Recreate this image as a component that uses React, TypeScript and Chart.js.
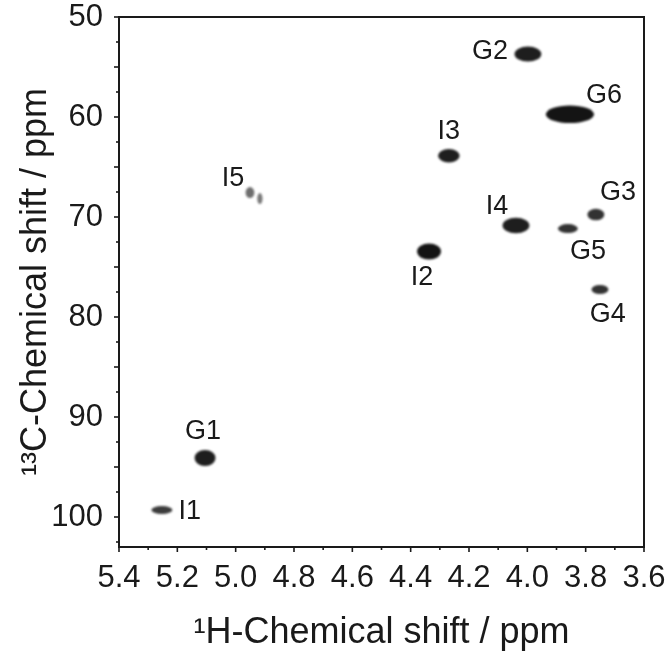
import React, { useEffect, useRef } from "react";
import { Chart, registerables } from "chart.js";

Chart.register(...registerables);

// 1H (x) and 13C (y) chemical shifts of the cross peaks, ppm
const peakH = [5.105, 3.998, 3.765, 3.751, 3.861, 3.854, 5.253, 4.337, 4.269, 4.039, 4.951, 4.917];
const peakC = [94.1, 53.7, 69.76, 77.25, 71.16, 59.73, 99.3, 73.45, 63.87, 70.86, 67.56, 68.16];
// peak extents (ppm) and relative intensity
const peakWidthH = [0.072, 0.092, 0.058, 0.058, 0.068, 0.165, 0.072, 0.082, 0.074, 0.092, 0.03, 0.018];
const peakWidthC = [1.6, 1.5, 1.15, 0.9, 0.9, 1.75, 0.8, 1.6, 1.35, 1.55, 1.1, 1.1];
const peakIntensity = [0.95, 0.95, 0.85, 0.85, 0.85, 1.0, 0.8, 1.0, 0.95, 0.95, 0.55, 0.5];

// peak assignment labels and their anchor positions (ppm)
const labelText = ["G1", "G2", "G3", "G4", "G5", "G6", "I1", "I2", "I3", "I4", "I5"];
const labelH = [5.112, 4.128, 3.689, 3.724, 3.792, 3.737, 5.157, 4.361, 4.269, 4.104, 5.009];
const labelC = [91.32, 53.4, 67.47, 79.64, 73.35, 57.8, 99.4, 75.95, 61.4, 68.86, 66.07];

// axis ticks
const xTickValues = [5.4, 5.2, 5.0, 4.8, 4.6, 4.4, 4.2, 4.0, 3.8, 3.6];
const xMinorTicks = [5.3, 5.1, 4.9, 4.7, 4.5, 4.3, 4.1, 3.9, 3.7];
const yTickValues = [50, 60, 70, 80, 90, 100];
const yMidTicks = [55, 65, 75, 85, 95];
const yMinorTicks = [52.5, 57.5, 62.5, 67.5, 72.5, 77.5, 82.5, 87.5, 92.5, 97.5, 102.5];

const xTitle = "\u00B9H-Chemical shift / ppm";
const yTitle = "\u00B9\u00B3C-Chemical shift / ppm";

const FONT = "'Liberation Sans', Arial, Helvetica, sans-serif";
const INK = "#1a1a1a";

const framePlugin = {
  id: "frameAndTicks",
  afterDraw(chart: any) {
    const { ctx, chartArea, scales } = chart;
    const xs = scales.x;
    const ys = scales.y;
    ctx.save();
    ctx.strokeStyle = INK;
    ctx.lineWidth = 2;
    ctx.strokeRect(chartArea.left, chartArea.top, chartArea.right - chartArea.left, chartArea.bottom - chartArea.top);
    ctx.lineWidth = 1.6;
    const tickX = (v: number, len: number) => {
      const p = xs.getPixelForValue(v);
      ctx.beginPath();
      ctx.moveTo(p, chartArea.bottom);
      ctx.lineTo(p, chartArea.bottom + len);
      ctx.stroke();
    };
    const tickY = (v: number, len: number) => {
      const p = ys.getPixelForValue(v);
      ctx.beginPath();
      ctx.moveTo(chartArea.left, p);
      ctx.lineTo(chartArea.left - len, p);
      ctx.stroke();
    };
    xTickValues.forEach((v) => tickX(v, 5));
    xMinorTicks.forEach((v) => tickX(v, 3));
    yTickValues.forEach((v) => tickY(v, 5));
    yMidTicks.forEach((v) => tickY(v, 5));
    yMinorTicks.forEach((v) => tickY(v, 3));
    ctx.restore();
  },
};

const peakPlugin = {
  id: "peaks",
  afterDatasetsDraw(chart: any) {
    const { ctx, scales, chartArea } = chart;
    const xs = scales.x;
    const ys = scales.y;
    const meta = chart.getDatasetMeta(0);
    ctx.save();
    ctx.beginPath();
    ctx.rect(chartArea.left, chartArea.top, chartArea.right - chartArea.left, chartArea.bottom - chartArea.top);
    ctx.clip();
    ctx.filter = "blur(1.2px)";
    meta.data.forEach((el: any, i: number) => {
      const rx = Math.abs(xs.getPixelForValue(peakH[i] - peakWidthH[i] / 2) - xs.getPixelForValue(peakH[i] + peakWidthH[i] / 2)) / 2;
      const ry = Math.abs(ys.getPixelForValue(peakC[i] - peakWidthC[i] / 2) - ys.getPixelForValue(peakC[i] + peakWidthC[i] / 2)) / 2;
      const g = Math.round(20 + (1 - peakIntensity[i]) * 200);
      ctx.fillStyle = `rgb(${g},${g},${g})`;
      ctx.beginPath();
      ctx.ellipse(el.x, el.y, rx, ry, 0, 0, Math.PI * 2);
      ctx.fill();
    });
    ctx.filter = "none";
    ctx.fillStyle = INK;
    ctx.font = `27px ${FONT}`;
    ctx.textAlign = "center";
    ctx.textBaseline = "middle";
    labelText.forEach((t, i) => {
      ctx.fillText(t, xs.getPixelForValue(labelH[i]), ys.getPixelForValue(labelC[i]) + 1);
    });
    ctx.restore();
  },
};

const zeroPad = (scale: any) => {
  scale.paddingTop = 0;
  scale.paddingBottom = 0;
  scale.paddingLeft = 0;
  scale.paddingRight = 0;
};

export default function App() {
  const ref = useRef<HTMLCanvasElement | null>(null);
  useEffect(() => {
    if (!ref.current) return;
    const chart = new Chart(ref.current, {
      type: "scatter",
      data: {
        datasets: [
          {
            data: peakH.map((h, i) => ({ x: h, y: peakC[i] })),
            pointRadius: 0,
            pointHoverRadius: 0,
            showLine: false,
          },
        ],
      },
      options: {
        animation: false,
        responsive: false,
        events: [],
        layout: { padding: { top: 17, right: 27, left: 0, bottom: 0 } },
        plugins: { legend: { display: false }, tooltip: { enabled: false } },
        scales: {
          x: {
            type: "linear",
            position: "bottom",
            min: 3.6,
            max: 5.4,
            reverse: true,
            grid: { display: false, drawTicks: false },
            border: { display: false },
            afterBuildTicks: (scale: any) => {
              scale.ticks = xTickValues.map((v) => ({ value: v }));
            },
            afterFit: (scale: any) => {
              scale.height = 109;
              zeroPad(scale);
            },
            ticks: {
              color: INK,
              font: { family: FONT, size: 31 },
              padding: 13,
              maxRotation: 0,
              autoSkip: false,
              callback: (v: any) => Number(v).toFixed(1),
            },
            title: {
              display: true,
              text: xTitle,
              color: INK,
              font: { family: FONT, size: 36 },
              padding: { top: 0, bottom: 1 },
            },
          },
          y: {
            type: "linear",
            min: 50,
            max: 103,
            reverse: true,
            grid: { display: false, drawTicks: false },
            border: { display: false },
            afterBuildTicks: (scale: any) => {
              scale.ticks = yTickValues.map((v) => ({ value: v }));
            },
            afterFit: (scale: any) => {
              scale.width = 119;
              zeroPad(scale);
            },
            ticks: {
              color: INK,
              font: { family: FONT, size: 31 },
              padding: 16,
              autoSkip: false,
              callback: (v: any) => String(Math.round(Number(v))),
            },
            title: {
              display: true,
              text: yTitle,
              color: INK,
              font: { family: FONT, size: 36 },
              padding: { top: 14, bottom: 0 },
            },
          },
        },
      },
      plugins: [framePlugin, peakPlugin],
    });
    return () => chart.destroy();
  }, []);
  return (
    <div style={{ position: "fixed", left: 0, top: 0, width: 671, height: 656, background: "#fff" }}>
      <canvas ref={ref} width={671} height={656} style={{ display: "block", width: 671, height: 656 }} />
    </div>
  );
}
